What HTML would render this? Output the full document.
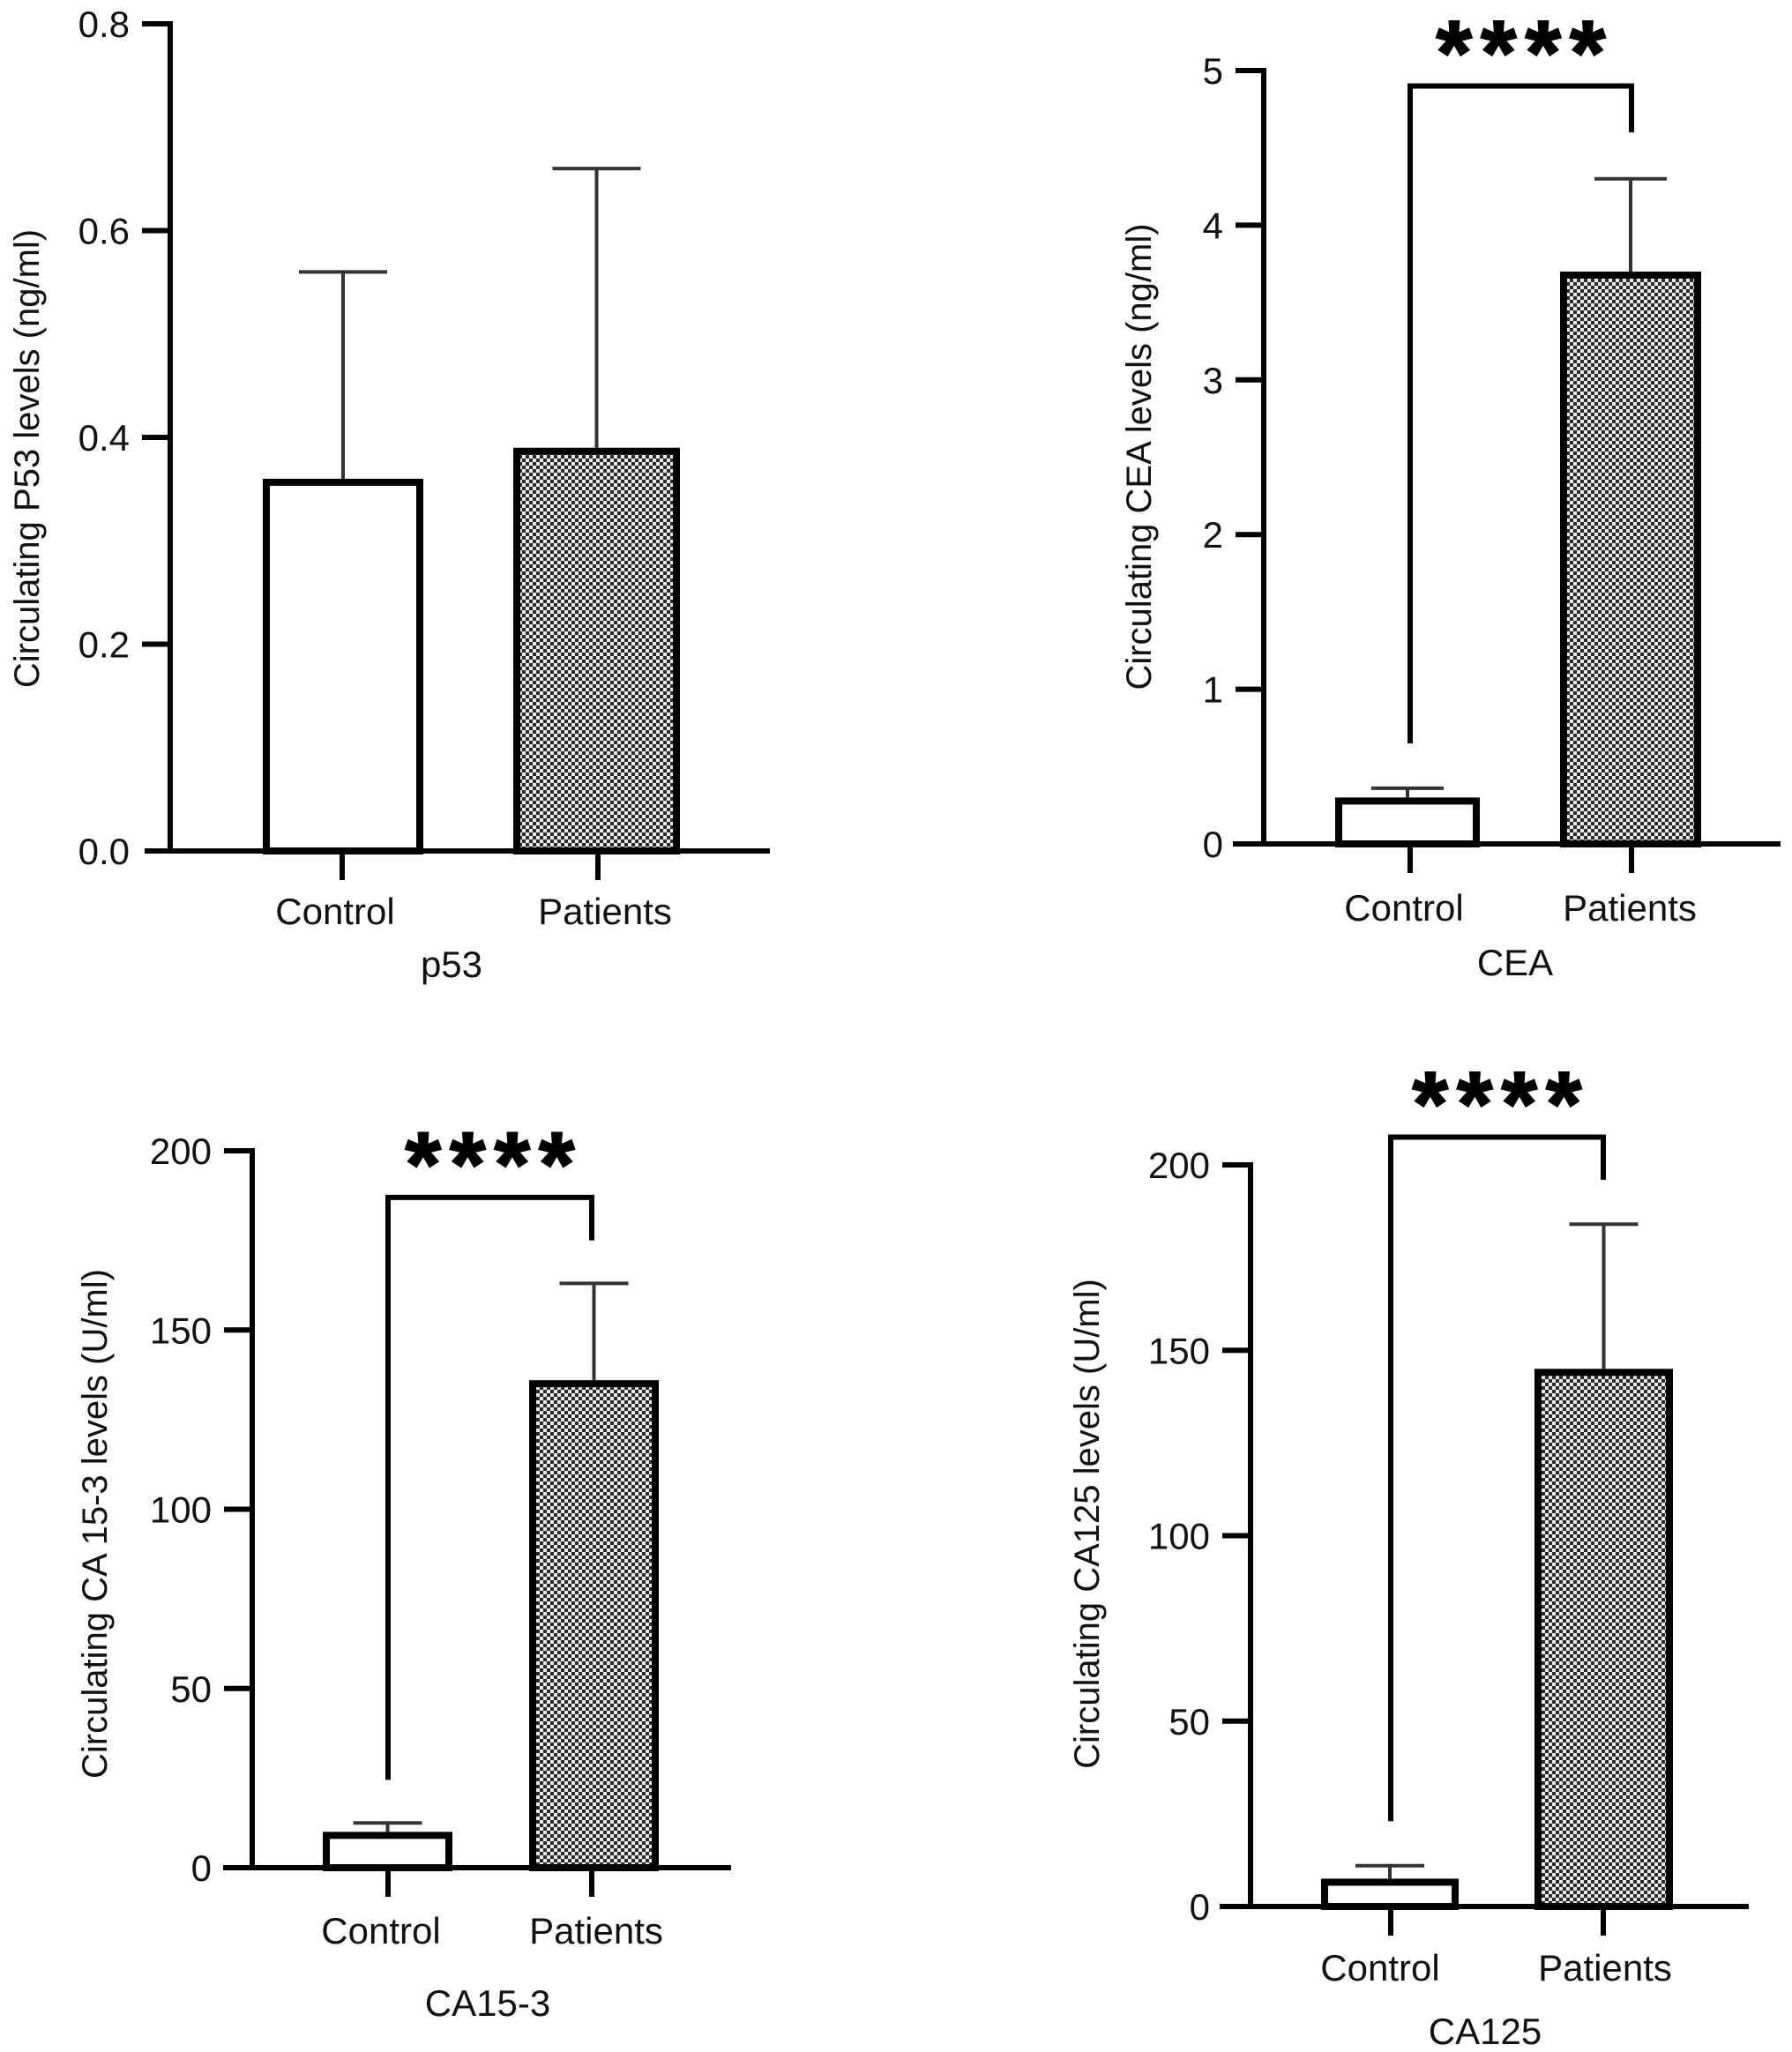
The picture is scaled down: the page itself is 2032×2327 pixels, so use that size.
<!DOCTYPE html>
<html><head><meta charset="utf-8"><style>
html,body{margin:0;padding:0;background:#fff;}
svg{display:block;font-family:"Liberation Sans",Arial,sans-serif;}
</style></head><body>
<svg id="fig" width="2032" height="2327" viewBox="0 0 2032 2327" xmlns="http://www.w3.org/2000/svg">
<defs>
<pattern id="checker" width="8" height="8" patternUnits="userSpaceOnUse">
<rect width="8" height="8" fill="#e8e8e8"/>
<rect width="4" height="4" fill="#2a2a2a"/>
<rect x="4" y="4" width="4" height="4" fill="#2a2a2a"/>
</pattern>
</defs>
</svg>
<script>
const categories = ["Control", "Patients"];
const p53Means = [0.36, 0.39];
const p53Errors = [0.56, 0.66];
const p53Ticks = ["0.0", "0.2", "0.4", "0.6", "0.8"];
const p53TickValues = [0, 0.2, 0.4, 0.6, 0.8];
const ceaMeans = [0.3, 3.7];
const ceaErrors = [0.36, 4.3];
const ceaTicks = ["0", "1", "2", "3", "4", "5"];
const ceaTickValues = [0, 1, 2, 3, 4, 5];
const ceaBracket = [0.65, 4.9, 4.6];
const ca153Means = [10, 136];
const ca153Errors = [12.5, 163];
const ca153Ticks = ["0", "50", "100", "150", "200"];
const ca153TickValues = [0, 50, 100, 150, 200];
const ca153Bracket = [24.5, 187, 175];
const ca125Means = [7.5, 145];
const ca125Errors = [11, 184];
const ca125Ticks = ["0", "50", "100", "150", "200"];
const ca125TickValues = [0, 50, 100, 150, 200];
const ca125Bracket = [23, 207.5, 196];

const NS = "http://www.w3.org/2000/svg";
const svg = document.getElementById('fig');
function mk(tag, attrs, parent){
  const e = document.createElementNS(NS, tag);
  for (const k in attrs) e.setAttribute(k, attrs[k]);
  (parent||svg).appendChild(e);
  return e;
}

function panel(cfg){
  const g = mk('g', {});
  
  
  const yScale = v => cfg.y0 + (cfg.yTop - cfg.y0) * (v - cfg.vMin) / (cfg.vMax - cfg.vMin);
  cfg.means.forEach((m, i) => {
    const x0 = cfg.barX[i][0], x1 = cfg.barX[i][1];
    const cx = (x0 + x1) / 2, hw = cfg.capW / 2;
    const err = mk('g', {}, g);
    
    
    mk('line', {x1:cx, x2:cx, y1:yScale(m), y2:yScale(cfg.errors[i]), stroke:'#333', 'stroke-width':4}, err);
    mk('line', {x1:cx-hw, x2:cx+hw, y1:yScale(cfg.errors[i]), y2:yScale(cfg.errors[i]), stroke:'#333', 'stroke-width':4}, err);
    const top = yScale(m);
    const r = mk('rect', {x:x0+4, y:top+4, width:x1-x0-8, height:Math.max(0, cfg.y0-top-4), fill: i===0 ? '#fff' : 'url(#checker)', stroke:'#000', 'stroke-width':8}, g);
    
    
  });
  const ya = mk('g', {}, g);
  
  
  mk('line', {x1:cfg.axisX, x2:cfg.axisX, y1:yScale(cfg.vMax)-3, y2:cfg.y0+3, stroke:'#000', 'stroke-width':6}, ya);
  cfg.tickValues.forEach((v, i) => {
    const y = yScale(v);
    if (i > 0) mk('line', {x1:cfg.axisX-32, x2:cfg.axisX, y1:y, y2:y, stroke:'#000', 'stroke-width':6}, ya);
    const t = mk('text', {x:cfg.axisX-46, y:y+15, 'text-anchor':'end', 'font-size':42, fill:'#111'}, ya);
    t.textContent = cfg.ticks[i];
    
    
  });
  const xa = mk('g', {}, g);
  
  
  mk('line', {x1:cfg.xAxis[0], x2:cfg.xAxis[1], y1:cfg.y0, y2:cfg.y0, stroke:'#000', 'stroke-width':6}, xa);
  categories.forEach((c, i) => {
    mk('line', {x1:cfg.catX[i], x2:cfg.catX[i], y1:cfg.y0, y2:cfg.y0+33, stroke:'#000', 'stroke-width':6}, xa);
    const t = mk('text', {x:cfg.labelX[i], y:cfg.labelY, 'text-anchor':'middle', 'font-size':42, fill:'#111'}, xa);
    t.textContent = c;
    
    
  });
  const tt = mk('text', {x:cfg.title[0], y:cfg.title[1], 'text-anchor':'middle', 'font-size':42, fill:'#111'}, g);
  tt.textContent = cfg.titleText;
  
  
  const yt = mk('text', {x:0, y:0, 'text-anchor':'middle', 'font-size':40, fill:'#111', transform:'translate(' + cfg.yTitle[0] + ',' + cfg.yTitle[1] + ') rotate(-90)'}, g);
  yt.textContent = cfg.yTitleText;
  
  
  if (cfg.bracket) {
    const b = mk('g', {}, g);
    
    
    const yTopB = yScale(cfg.bracket[1]);
    mk('polyline', {points: cfg.catX[0] + ',' + yScale(cfg.bracket[0]) + ' ' + cfg.catX[0] + ',' + yTopB + ' ' + cfg.catX[1] + ',' + yTopB + ' ' + cfg.catX[1] + ',' + yScale(cfg.bracket[2]), fill:'none', stroke:'#000', 'stroke-width':6}, b);
    const s = mk('text', {x:(cfg.catX[0]+cfg.catX[1])/2 + 5, y:yTopB - 2, 'text-anchor':'middle', 'font-size':104, 'font-weight':'bold', 'letter-spacing':10, fill:'#000', stroke:'#000', 'stroke-width':2}, b);
    s.textContent = '****';
    
    
  }
}

panel({name:'p53', means:p53Means, errors:p53Errors, ticks:p53Ticks, tickValues:p53TickValues,
  vMin:0, vMax:0.8, y0:965, yTop:27, axisX:193, xAxis:[164,873],
  barX:[[298,480],[582,771]], capW:100, catX:[388,678], labelX:[380,686], labelY:1048,
  title:[512,1108], titleText:'p53', yTitle:[44,520], yTitleText:'Circulating P53 levels (ng/ml)'});
panel({name:'cea', means:ceaMeans, errors:ceaErrors, ticks:ceaTicks, tickValues:ceaTickValues,
  vMin:0, vMax:5, y0:957, yTop:80, axisX:1433, xAxis:[1398,2019],
  barX:[[1514,1678],[1769,1929]], capW:82, catX:[1599,1850], labelX:[1592,1848], labelY:1044,
  title:[1718,1106], titleText:'CEA', yTitle:[1305,518], yTitleText:'Circulating CEA levels (ng/ml)', bracket:ceaBracket});
panel({name:'ca153', means:ca153Means, errors:ca153Errors, ticks:ca153Ticks, tickValues:ca153TickValues,
  vMin:0, vMax:200, y0:2118, yTop:1305, axisX:286, xAxis:[253,829],
  barX:[[366,513],[600,747]], capW:78, catX:[440,671], labelX:[432,676], labelY:2204,
  title:[553,2286], titleText:'CA15-3', yTitle:[121,1728], yTitleText:'Circulating CA 15-3 levels (U/ml)', bracket:ca153Bracket});
panel({name:'ca125', means:ca125Means, errors:ca125Errors, ticks:ca125Ticks, tickValues:ca125TickValues,
  vMin:0, vMax:200, y0:2162, yTop:1321, axisX:1418, xAxis:[1383,1983],
  barX:[[1498,1654],[1740,1897]], capW:78, catX:[1577,1818], labelX:[1565,1820], labelY:2246,
  title:[1684,2318], titleText:'CA125', yTitle:[1246,1728], yTitleText:'Circulating CA125 levels (U/ml)', bracket:ca125Bracket});
</script>
</body></html>
